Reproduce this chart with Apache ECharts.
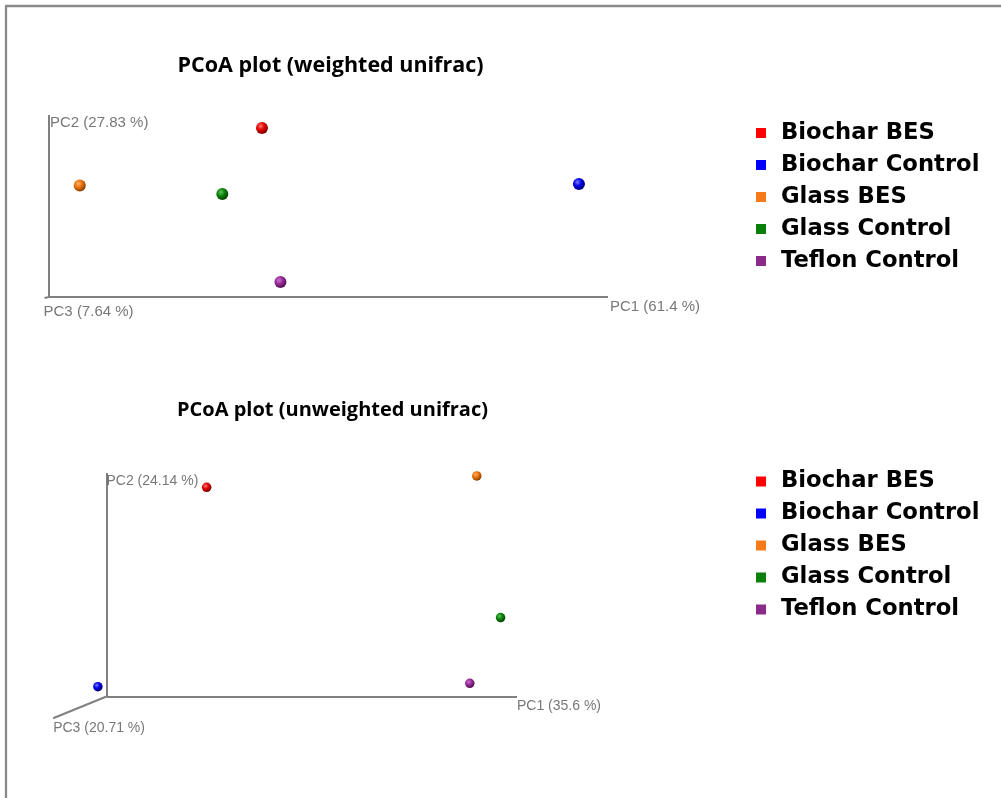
<!DOCTYPE html>
<html>
<head>
<meta charset="utf-8">
<script src="https://cdn.jsdelivr.net/npm/echarts@6/dist/echarts.min.js"></script>
<style>
html,body{margin:0;padding:0;background:#fff;}
#chart{width:1001px;height:798px;}
</style>
</head>
<body>
<div id="chart"></div>
<script>
// ---- data ----
const groups = ['Biochar BES', 'Biochar Control', 'Glass BES', 'Glass Control', 'Teflon Control'];
const titles = ['PCoA plot (weighted unifrac)', 'PCoA plot (unweighted unifrac)'];
// weighted unifrac (PC1, PC2 in % of drawn axis length)
const weightedPC1 = [38.1, 94.8, 5.5, 31.0, 41.4];
const weightedPC2 = [92.9, 62.1, 61.3, 56.6, 8.2];
const weightedAxisNames = ['PC1 (61.4 %)', 'PC2 (27.83 %)', 'PC3 (7.64 %)'];
const weightedPC3End = [-0.8, -0.5];
// unweighted unifrac
const unweightedPC1 = [24.4, -2.1, 90.2, 96.0, 88.5];
const unweightedPC2 = [93.6, 4.4, 98.7, 35.3, 5.9];
const unweightedAxisNames = ['PC1 (35.6 %)', 'PC2 (24.14 %)', 'PC3 (20.71 %)'];
const unweightedPC3End = [-13.0, -9.75];

const legendColors = ['#ff0000', '#0000ff', '#f57a1a', '#0a7f0a', '#8a2a8a'];
const sphereColors = [
  ['#ff7a7a', '#e60000', '#6a0000'],
  ['#7a7aff', '#0000e6', '#00006a'],
  ['#ffb070', '#ec7208', '#7a3a00'],
  ['#60c060', '#0a840a', '#023a02'],
  ['#d070d0', '#962c96', '#480c48']
];

function sphere(c) {
  return {
    type: 'radial', x: 0.38, y: 0.35, r: 0.7,
    colorStops: [
      { offset: 0, color: c[0] },
      { offset: 0.45, color: c[1] },
      { offset: 1, color: c[2] }
    ]
  };
}

const axisLineStyle = { color: '#808080', width: 2, opacity: 1 };
const series = [];

function addPlot(idx, pc1, pc2, names, pc3End, dotSize, fontSize, labelOffsets) {
  // axes lines (PC1, PC2, PC3)
  series.push({
    type: 'lines', coordinateSystem: 'cartesian2d', xAxisIndex: idx, yAxisIndex: idx,
    silent: true, clip: false, animation: false, polyline: false,
    lineStyle: axisLineStyle,
    data: [
      { coords: [[0, 0], [100, 0]] },
      { coords: [[0, 0], [0, 100]] },
      { coords: [[0, 0], pc3End] }
    ]
  });
  // axis name labels
  const anchors = [[100, 0], [0, 100], pc3End];
  anchors.forEach((a, i) => {
    series.push({
      type: 'scatter', xAxisIndex: idx, yAxisIndex: idx, silent: true, clip: false,
      symbolSize: 0, animation: false,
      data: [a],
      label: {
        show: true, position: 'right', distance: 0, offset: labelOffsets[i],
        formatter: names[i], color: '#555555', fontSize: fontSize,
        fontFamily: 'Liberation Sans, Arial, sans-serif'
      }
    });
  });
  // points
  groups.forEach((g, i) => {
    series.push({
      name: g, type: 'scatter', xAxisIndex: idx, yAxisIndex: idx, clip: false,
      symbolSize: dotSize,
      itemStyle: { color: sphere(sphereColors[i]), opacity: 1 },
      data: [[pc1[i], pc2[i]]]
    });
  });
}

addPlot(0, weightedPC1, weightedPC2, weightedAxisNames, weightedPC3End, 12, 15,
  [[2, 10], [1, 8], [-1, 14]]);
addPlot(1, unweightedPC1, unweightedPC2, unweightedAxisNames, unweightedPC3End, 9.5, 14,
  [[0, 10], [0, 8], [0, 10]]);

const legendData = groups.map((g, i) => ({ name: g, itemStyle: { color: legendColors[i], opacity: 1 } }));
const legendCommon = {
  orient: 'vertical', left: 751, itemWidth: 10, itemHeight: 10, itemGap: 9,
  icon: 'rect', selectedMode: false,
  itemStyle: { opacity: 1 },
  textStyle: {
    fontFamily: 'DejaVu Sans', fontWeight: 'bold', fontSize: 22.7, lineHeight: 22,
    color: '#000', padding: [0, 0, 0, 10]
  },
  data: legendData
};

const chart = echarts.init(document.getElementById('chart'));
chart.setOption({
  animation: false,
  backgroundColor: '#fff',
  grid: [
    { left: 49, top: 115, width: 559, height: 182 },
    { left: 106.5, top: 473, width: 410.5, height: 223.5 }
  ],
  xAxis: [
    { type: 'value', gridIndex: 0, min: 0, max: 100, show: false },
    { type: 'value', gridIndex: 1, min: 0, max: 100, show: false }
  ],
  yAxis: [
    { type: 'value', gridIndex: 0, min: 0, max: 100, show: false },
    { type: 'value', gridIndex: 1, min: 0, max: 100, show: false }
  ],
  legend: [
    Object.assign({}, legendCommon, { top: 116.5 }),
    Object.assign({}, legendCommon, { top: 465 })
  ],
  graphic: [
    { type: 'line', shape: { x1: 6, y1: 6, x2: 6, y2: 798 }, style: { stroke: '#8a8a8a', lineWidth: 2.3 }, silent: true },
    { type: 'line', shape: { x1: 5, y1: 6, x2: 1001, y2: 6 }, style: { stroke: '#8a8a8a', lineWidth: 2.3 }, silent: true },
    { type: 'text', x: 330.5, y: 66, silent: true,
      style: { text: titles[0], textAlign: 'center', textVerticalAlign: 'middle',
        font: 'bold 21.5px "Open Sans", sans-serif', fill: '#000' } },
    { type: 'text', x: 332.5, y: 410, silent: true,
      style: { text: titles[1], textAlign: 'center', textVerticalAlign: 'middle',
        font: 'bold 20px "Open Sans", sans-serif', fill: '#000' } }
  ],
  series: series
});
</script>
</body>
</html>
